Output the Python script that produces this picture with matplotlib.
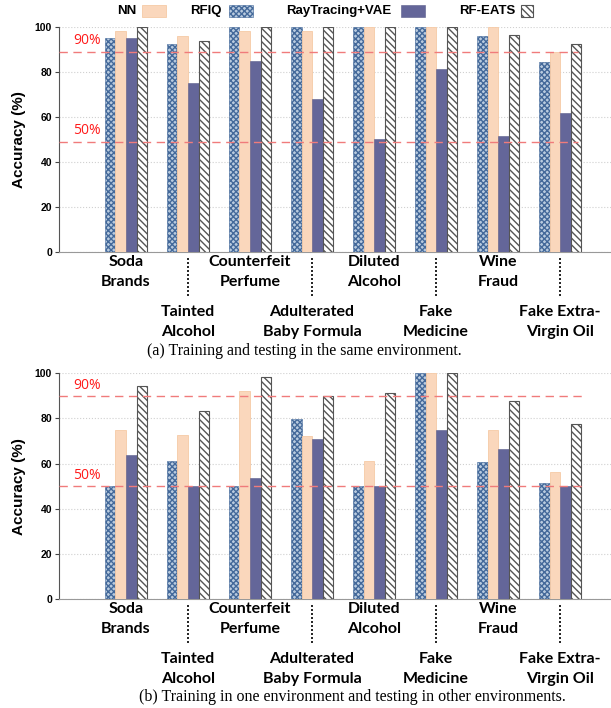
import matplotlib
matplotlib.use('Agg')
import matplotlib.pyplot as plt
import numpy as np
from matplotlib.patches import Rectangle
from matplotlib.transforms import blended_transform_factory

# data
categories = ['Soda\nBrands', 'Tainted\nAlcohol', 'Counterfeit\nPerfume',
              'Adulterated\nBaby Formula', 'Diluted\nAlcohol', 'Fake\nMedicine',
              'Wine\nFraud', 'Fake Extra-\nVirgin Oil']
series_names = ['RFIQ', 'NN', 'RayTracing+VAE', 'RF-EATS']

same_rfiq = [95, 92.5, 100, 100, 100, 100, 96, 84.6]
same_nn = [98.2, 96, 98.2, 98, 100, 100, 100, 88.7]
same_rtvae = [95, 75.1, 85, 68.1, 50.1, 81.5, 51.6, 61.6]
same_eats = [100, 93.6, 100, 100, 100, 100, 96.4, 92.3]
same_refs = [89, 49]

cross_rfiq = [50, 61.2, 50, 79.8, 50, 100, 60.6, 51.6]
cross_nn = [74.9, 72.6, 92.3, 72.3, 61.2, 100, 74.9, 56.2]
cross_rtvae = [63.7, 50, 53.5, 70.9, 50, 74.9, 66.5, 50]
cross_eats = [94.2, 83.3, 98.2, 90, 91.1, 100, 87.9, 77.4]
cross_refs = [90, 50]

ref_labels = ['90%', '50%']
yticks = [0, 20, 40, 60, 80, 100]

# styles
STYLES = [
    dict(facecolor='#b9cbdf', edgecolor='#44699a', hatch='xxxxxx', linewidth=0.4),
    dict(facecolor='#fad7bc', edgecolor='#f6caa6', hatch='', linewidth=0.6),
    dict(facecolor='#646699', edgecolor='#5a5c8c', hatch='', linewidth=0.4),
    dict(facecolor='white', edgecolor='#555555', hatch='\\\\\\\\\\', linewidth=0.8),
]
SANS = 'Liberation Sans'
LABEL_FONT = 'Lato'
W = 0.17

fig = plt.figure(figsize=(6.11, 7.08), dpi=100)


def draw_panel(rect, values, refs, caption, cap_x, cap_y, ref_end):
    ax = fig.add_axes(rect)
    x = np.arange(len(categories))
    for j, vals in enumerate(values):
        ax.bar(x + (j - 1.5) * W, vals, W, **STYLES[j], zorder=3)
    ax.set_xlim(-1.08, 7.82)
    ax.set_ylim(0, 100)
    ax.set_yticks(yticks)
    ax.set_yticklabels([str(t) for t in yticks], fontsize=7.5,
                       fontweight='bold', family=SANS)
    ax.set_xticks([])
    ax.tick_params(axis='y', length=3, width=0.8, color='#444444', pad=2)
    for s in ['top', 'right']:
        ax.spines[s].set_visible(False)
    ax.spines['left'].set_color('#555555')
    ax.spines['bottom'].set_color('#999999')
    ax.yaxis.grid(True, linestyle=':', color='#d0d0d0', linewidth=0.8, zorder=0)
    ax.set_ylabel('Accuracy (%)', fontsize=11, fontweight='bold', family=SANS,
                  labelpad=6)

    # reference lines
    for r, lab in zip(refs, ref_labels):
        ax.plot([-1.08, ref_end], [r, r], color='#f07b7b', linewidth=1.0,
                dashes=(6, 4), zorder=4)
        ax.text(-0.85, r + 1.5, lab, color='#ff1a1a', fontsize=10,
                family='Open Sans', va='bottom', ha='left', zorder=5)

    # category labels in two rows
    trans = blended_transform_factory(ax.transData, ax.transAxes)
    h_px = rect[3] * 708
    for i, c in enumerate(categories):
        top_px = 3 if i % 2 == 0 else 53
        ax.text(i, -top_px / h_px, c, transform=trans, ha='center', va='top',
                fontsize=11.5, fontweight='bold', family=LABEL_FONT,
                linespacing=1.55, clip_on=False)
        if i % 2 == 1:
            ax.plot([i, i], [-6 / h_px, -44 / h_px], transform=trans,
                    color='black', linestyle=(0, (1.2, 1.2)), linewidth=1.2,
                    clip_on=False)

    fig.text(cap_x / 611, 1 - cap_y / 708, caption, ha='center', va='center',
             fontsize=11.5, family='Liberation Serif')
    return ax


draw_panel([59 / 611, 1 - 252 / 708, 1 - 59 / 611, 225 / 708],
           [same_rfiq, same_nn, same_rtvae, same_eats], same_refs,
           '(a) Training and testing in the same environment.', 304, 351, 7.29)
draw_panel([59 / 611, 1 - 599.3 / 708, 1 - 59 / 611, 226 / 708],
           [cross_rfiq, cross_nn, cross_rtvae, cross_eats], cross_refs,
           '(b) Training in one environment and testing in other environments.',
           352, 697, 7.37)

# legend: label first, then swatch
legend_items = [('NN', 1, 136, 142, 24), ('RFIQ', 0, 222, 229, 24),
                ('RayTracing+VAE', 2, 391, 401, 24), ('RF-EATS', 3, 515, 521, 12)]
for name, style_idx, text_right, sw_left, sw_w in legend_items:
    fig.text(text_right / 611, 1 - 11 / 708, name, ha='right', va='center',
             fontsize=9.5, fontweight='bold', family=SANS)
    fig.patches.append(Rectangle((sw_left / 611, 1 - 17 / 708), sw_w / 611,
                                 12 / 708, transform=fig.transFigure,
                                 **STYLES[style_idx]))

fig.savefig('out.png', dpi=100)
